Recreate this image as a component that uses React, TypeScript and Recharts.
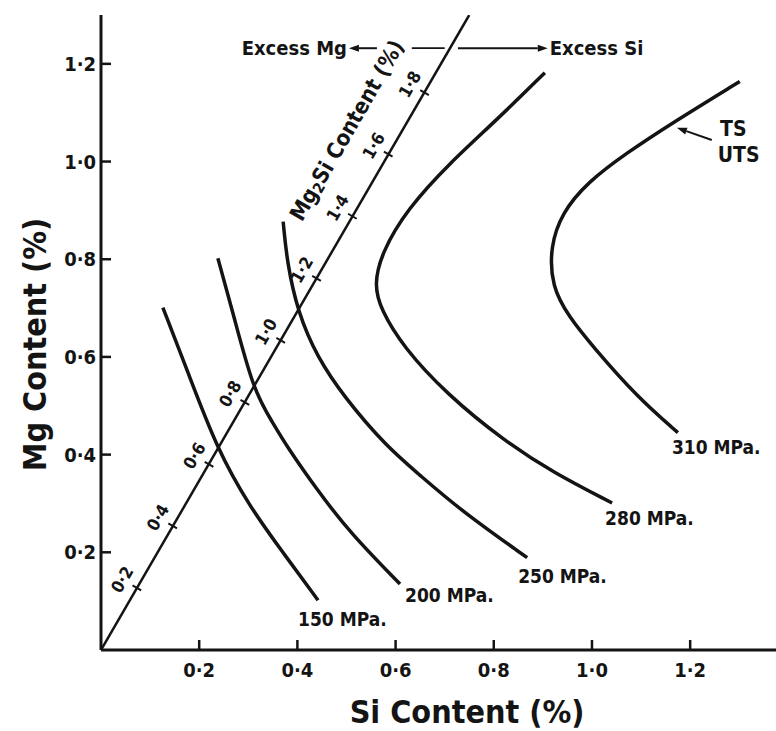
import React from 'react';
import { ComposedChart, Line, Scatter, XAxis, YAxis, ReferenceLine } from 'recharts';

const FONT = "'DejaVu Sans Condensed', 'Liberation Sans Narrow', 'DejaVu Sans', sans-serif";
const INK = '#141414';

const siTicks = [0.2, 0.4, 0.6, 0.8, 1.0, 1.2];
const mgTicks = [0.2, 0.4, 0.6, 0.8, 1.0, 1.2];

// Mg2Si line and the Mg2Si content marks along it
const mg2siLine = [{ si: 0, mg: 0 }, { si: 0.75, mg: 1.3 }];
const mg2siContent = [0.2, 0.4, 0.6, 0.8, 1.0, 1.2, 1.4, 1.6, 1.8];
const mg2siSi = [0.073, 0.146, 0.22, 0.293, 0.366, 0.439, 0.512, 0.585, 0.659];
const mg2siMg = [0.127, 0.254, 0.38, 0.507, 0.634, 0.761, 0.888, 1.015, 1.141];

// strength contours (Si %, Mg %)
const ts150 = [
  { si: 0.126, mg: 0.701 }, { si: 0.175, mg: 0.574 }, { si: 0.236, mg: 0.412 },
  { si: 0.303, mg: 0.293 }, { si: 0.371, mg: 0.199 }, { si: 0.442, mg: 0.102 },
];
const ts200 = [
  { si: 0.238, mg: 0.802 }, { si: 0.269, mg: 0.69 }, { si: 0.31, mg: 0.532 },
  { si: 0.35, mg: 0.465 }, { si: 0.379, mg: 0.416 }, { si: 0.44, mg: 0.328 },
  { si: 0.507, mg: 0.24 }, { si: 0.609, mg: 0.135 },
];
const ts250 = [
  { si: 0.371, mg: 0.877 }, { si: 0.379, mg: 0.793 }, { si: 0.401, mg: 0.691 },
  { si: 0.44, mg: 0.6 }, { si: 0.495, mg: 0.518 }, { si: 0.582, mg: 0.416 },
  { si: 0.644, mg: 0.363 }, { si: 0.731, mg: 0.287 }, { si: 0.868, mg: 0.189 },
];
const ts280 = [
  { si: 0.904, mg: 1.182 }, { si: 0.807, mg: 1.086 }, { si: 0.711, mg: 0.998 },
  { si: 0.623, mg: 0.902 }, { si: 0.572, mg: 0.814 }, { si: 0.556, mg: 0.748 },
  { si: 0.57, mg: 0.697 }, { si: 0.615, mg: 0.621 }, { si: 0.705, mg: 0.523 },
  { si: 0.819, mg: 0.43 }, { si: 0.921, mg: 0.363 }, { si: 1.041, mg: 0.301 },
];
const ts310 = [
  { si: 1.301, mg: 1.164 }, { si: 1.165, mg: 1.08 }, { si: 1.071, mg: 1.018 },
  { si: 0.99, mg: 0.957 }, { si: 0.939, mg: 0.895 }, { si: 0.915, mg: 0.826 },
  { si: 0.918, mg: 0.744 }, { si: 0.953, mg: 0.682 }, { si: 1.002, mg: 0.621 },
  { si: 1.092, mg: 0.518 }, { si: 1.175, mg: 0.445 },
];
const curveNames = ['150 MPa.', '200 MPa.', '250 MPa.', '280 MPa.', '310 MPa.'];

// free text notes
const noteText = ['Excess Mg', 'Excess Si', 'TS', 'UTS'];
const noteSi = [0.501, 0.914, 1.261, 1.256];
const noteMg = [1.232, 1.232, 1.066, 1.013];

const curves = [ts150, ts200, ts250, ts280, ts310];
// pixel offsets of each strength label from the curve end
const labelOffset = [[-20, 19], [5, 11], [-9, 18], [-7, 15], [-6, 14]];
const noteStyle = [
  { anchor: 'end', size: 20 },
  { anchor: 'start', size: 20 },
  { anchor: 'start', size: 21 },
  { anchor: 'start', size: 21 },
];

const fmt = (v: number) => v.toFixed(1).replace('.', '·');

const marks = mg2siContent.map((c, i) => ({ si: mg2siSi[i], mg: mg2siMg[i], c }));
const ends = curves.map((d, i) => ({ ...d[d.length - 1], name: curveNames[i], i }));
const notes = noteText.map((t, i) => ({ si: noteSi[i], mg: noteMg[i], t, i }));
const titleAt = [{ si: mg2siSi[7], mg: mg2siMg[7] }];

const textStyle = { fontFamily: FONT, fontWeight: 700, fill: INK };

const MarkShape = (p: any) => {
  const { cx, cy, payload } = p;
  const nx = 0.866, ny = 0.5;
  const lx = cx - nx * 17, ly = cy - ny * 17;
  return (
    <g>
      <line x1={cx - nx * 5} y1={cy - ny * 5} x2={cx + nx * 5} y2={cy + ny * 5} stroke={INK} strokeWidth={2} />
      <text x={lx} y={ly} textAnchor="middle" dominantBaseline="central" fontSize={17}
        transform={`rotate(-60 ${lx} ${ly})`} style={textStyle}>{fmt(payload.c)}</text>
    </g>
  );
};

const EndShape = (p: any) => {
  const { cx, cy, payload } = p;
  const [dx, dy] = labelOffset[payload.i];
  return (
    <text x={cx + dx} y={cy + dy} dominantBaseline="central" fontSize={19} style={textStyle}>
      {payload.name}
    </text>
  );
};

const NoteShape = (p: any) => {
  const { cx, cy, payload } = p;
  const st = noteStyle[payload.i];
  return (
    <text x={cx} y={cy} textAnchor={st.anchor} dominantBaseline="central" fontSize={st.size} style={textStyle}>
      {payload.t}
    </text>
  );
};

const TitleShape = (p: any) => {
  const { cx, cy } = p;
  const tx = cx - 0.866 * 48, ty = cy - 0.5 * 48;
  return (
    <text x={tx} y={ty} textAnchor="middle" dominantBaseline="central" fontSize={22}
      transform={`rotate(-60 ${tx} ${ty})`} style={textStyle}>
      Mg<tspan fontSize={15} dy={5}>2</tspan><tspan dy={-5}>Si Content (%)</tspan>
    </text>
  );
};

const Arrow = (p: any) => {
  const { x1, y1, x2, y2 } = p;
  const len = Math.hypot(x2 - x1, y2 - y1) || 1;
  const ux = (x2 - x1) / len, uy = (y2 - y1) / len;
  const bx = x2 - ux * 10, by = y2 - uy * 10;
  return (
    <g>
      <line x1={x1} y1={y1} x2={bx} y2={by} stroke={INK} strokeWidth={2} />
      <polygon points={`${x2},${y2} ${bx - uy * 3.5},${by + ux * 3.5} ${bx + uy * 3.5},${by - ux * 3.5}`} fill={INK} />
    </g>
  );
};

const XTitle = (p: any) => {
  const vb = p.viewBox || { x: 101, y: 650, width: 680, height: 81 };
  return (
    <text x={vb.x + vb.width / 2 + 26} y={vb.y + 62} textAnchor="middle" dominantBaseline="central"
      fontSize={32} style={textStyle}>Si Content (%)</text>
  );
};

const YTitle = (p: any) => {
  const vb = p.viewBox || { x: 41, y: 15, width: 60, height: 635 };
  const x = vb.x - 6, y = vb.y + vb.height / 2 + 12;
  return (
    <text x={x} y={y} textAnchor="middle" dominantBaseline="central" fontSize={32}
      transform={`rotate(-90 ${x} ${y})`} style={textStyle}>Mg Content (%)</text>
  );
};

const axisLine = { stroke: INK, strokeWidth: 3 };
const tickLine = { stroke: INK, strokeWidth: 2.5 };
const tick = { fill: INK, fontSize: 20, fontWeight: 700, fontFamily: FONT };
const X_DOMAIN: [number, number] = [0, 1.385];
const Y_DOMAIN: [number, number] = [0, 1.3];

export default function App() {
  return (
    <div style={{ position: 'absolute', left: 0, top: 0, width: 776, height: 731, overflow: 'hidden', background: '#fff' }}>
      <ComposedChart width={790} height={731} margin={{ top: 15, right: 9, left: 41, bottom: 0 }}>
        <XAxis dataKey="si" type="number" domain={X_DOMAIN} ticks={siTicks} allowDataOverflow
          height={81} tickSize={-10} tickMargin={23} tickFormatter={fmt}
          axisLine={axisLine} tickLine={tickLine} tick={tick} label={{ content: XTitle }} />
        <XAxis xAxisId="top" orientation="top" type="number" domain={X_DOMAIN} ticks={siTicks}
          allowDataOverflow height={0} tickSize={-9} tick={false} axisLine={axisLine} tickLine={tickLine} />
        <YAxis type="number" domain={Y_DOMAIN} ticks={mgTicks} allowDataOverflow width={60}
          tickSize={-10} tickMargin={15} tickFormatter={fmt}
          axisLine={axisLine} tickLine={tickLine} tick={tick} label={{ content: YTitle }} />
        <YAxis yAxisId="right" orientation="right" type="number" domain={Y_DOMAIN} ticks={mgTicks}
          allowDataOverflow width={0} tickSize={-9} tick={false} axisLine={axisLine} tickLine={tickLine} />

        <Line data={mg2siLine} dataKey="mg" type="linear" stroke={INK} strokeWidth={2.5} dot={false}
          isAnimationActive={false} />
        {curves.map((d, i) => (
          <Line key={curveNames[i]} data={d} dataKey="mg" type="basis" stroke={INK} strokeWidth={3.5}
            dot={false} isAnimationActive={false} />
        ))}

        <ReferenceLine segment={[{ x: 0.562, y: 1.232 }, { x: 0.505, y: 1.232 }]} shape={Arrow} ifOverflow="visible" />
        <ReferenceLine segment={[{ x: 0.633, y: 1.232 }, { x: 0.7, y: 1.232 }]} stroke={INK} strokeWidth={1.8} ifOverflow="visible" />
        <ReferenceLine segment={[{ x: 0.727, y: 1.232 }, { x: 0.91, y: 1.232 }]} shape={Arrow} ifOverflow="visible" />
        <ReferenceLine segment={[{ x: 1.244, y: 1.044 }, { x: 1.173, y: 1.069 }]} shape={Arrow} ifOverflow="visible" />

        <Scatter data={marks} dataKey="mg" shape={MarkShape} isAnimationActive={false} />
        <Scatter data={titleAt} dataKey="mg" shape={TitleShape} isAnimationActive={false} />
        <Scatter data={ends} dataKey="mg" shape={EndShape} isAnimationActive={false} />
        <Scatter data={notes} dataKey="mg" shape={NoteShape} isAnimationActive={false} />
      </ComposedChart>
    </div>
  );
}
